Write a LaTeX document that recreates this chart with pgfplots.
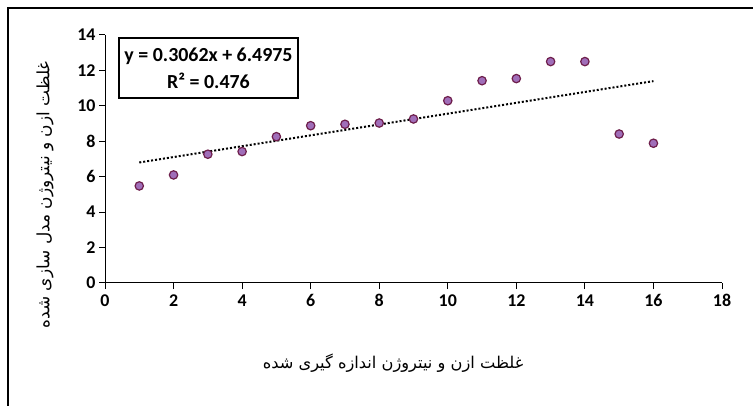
\documentclass[border=0pt]{standalone}
\usepackage{pgfplots}
\pgfplotsset{compat=1.18}
\usepackage{fontspec}
\setmainfont{Carlito}
\newfontfamily\arabicfont[Script=Arabic]{DejaVu Sans}
\TeXXeTstate=1
\definecolor{mfill}{RGB}{160,110,185}
\definecolor{medge}{RGB}{110,30,75}
\begin{document}
\begin{tikzpicture}
\useasboundingbox (0,0) rectangle (753bp,406bp);
\fill[white] (0,0) rectangle (753bp,406bp);
\draw[line width=1.6bp] (8bp,-5bp) -- (8bp,398bp) -- (760bp,398bp);
\begin{axis}[
  at={(105bp,123bp)}, anchor=south west,
  scale only axis, width=617bp, height=248bp,
  xmin=0, xmax=18, ymin=0, ymax=14,
  xtick={0,2,...,18}, ytick={0,2,...,14},
  axis lines=left, axis line style={-, line width=1bp},
  tick align=outside, major tick length=6bp,
  tick style={line width=1bp, black},
  /pgf/number format/assume math mode=true,
  tick label style={font=\bfseries\fontsize{18}{18}\selectfont},
  xticklabel style={yshift=-2bp},
  clip=false,
]
\addplot[only marks, mark=*, mark size=4.2bp, mark options={fill=mfill, draw=medge, line width=1.2bp}] coordinates {
(1,5.48) (2,6.10) (3,7.27) (4,7.42) (5,8.26) (6,8.88) (7,8.96) (8,9.03)
(9,9.26) (10,10.29) (11,11.42) (12,11.54) (13,12.50) (14,12.50) (15,8.41) (16,7.89)
};
\addplot[black, dotted, line width=2bp] coordinates {(1,6.8037) (16,11.3967)};
\end{axis}
\node[draw, line width=1.2bp, minimum width=179bp, minimum height=60bp, align=center, inner sep=2bp,
  font=\bfseries\fontsize{20}{27}\selectfont] at (208.5bp,338bp) {y = 0.3062x + 6.4975\\R² = 0.476};
\node[rotate=90, font=\arabicfont\fontsize{17}{17}\selectfont] at (45bp,211bp)
  {\beginR غلظت ازن و نیتروژن مدل سازی شده\endR};
\node[font=\arabicfont\fontsize{16.3}{16.3}\selectfont] at (393bp,43bp)
  {\beginR غلظت ازن و نیتروژن اندازه گیری شده\endR};
\end{tikzpicture}
\end{document}
